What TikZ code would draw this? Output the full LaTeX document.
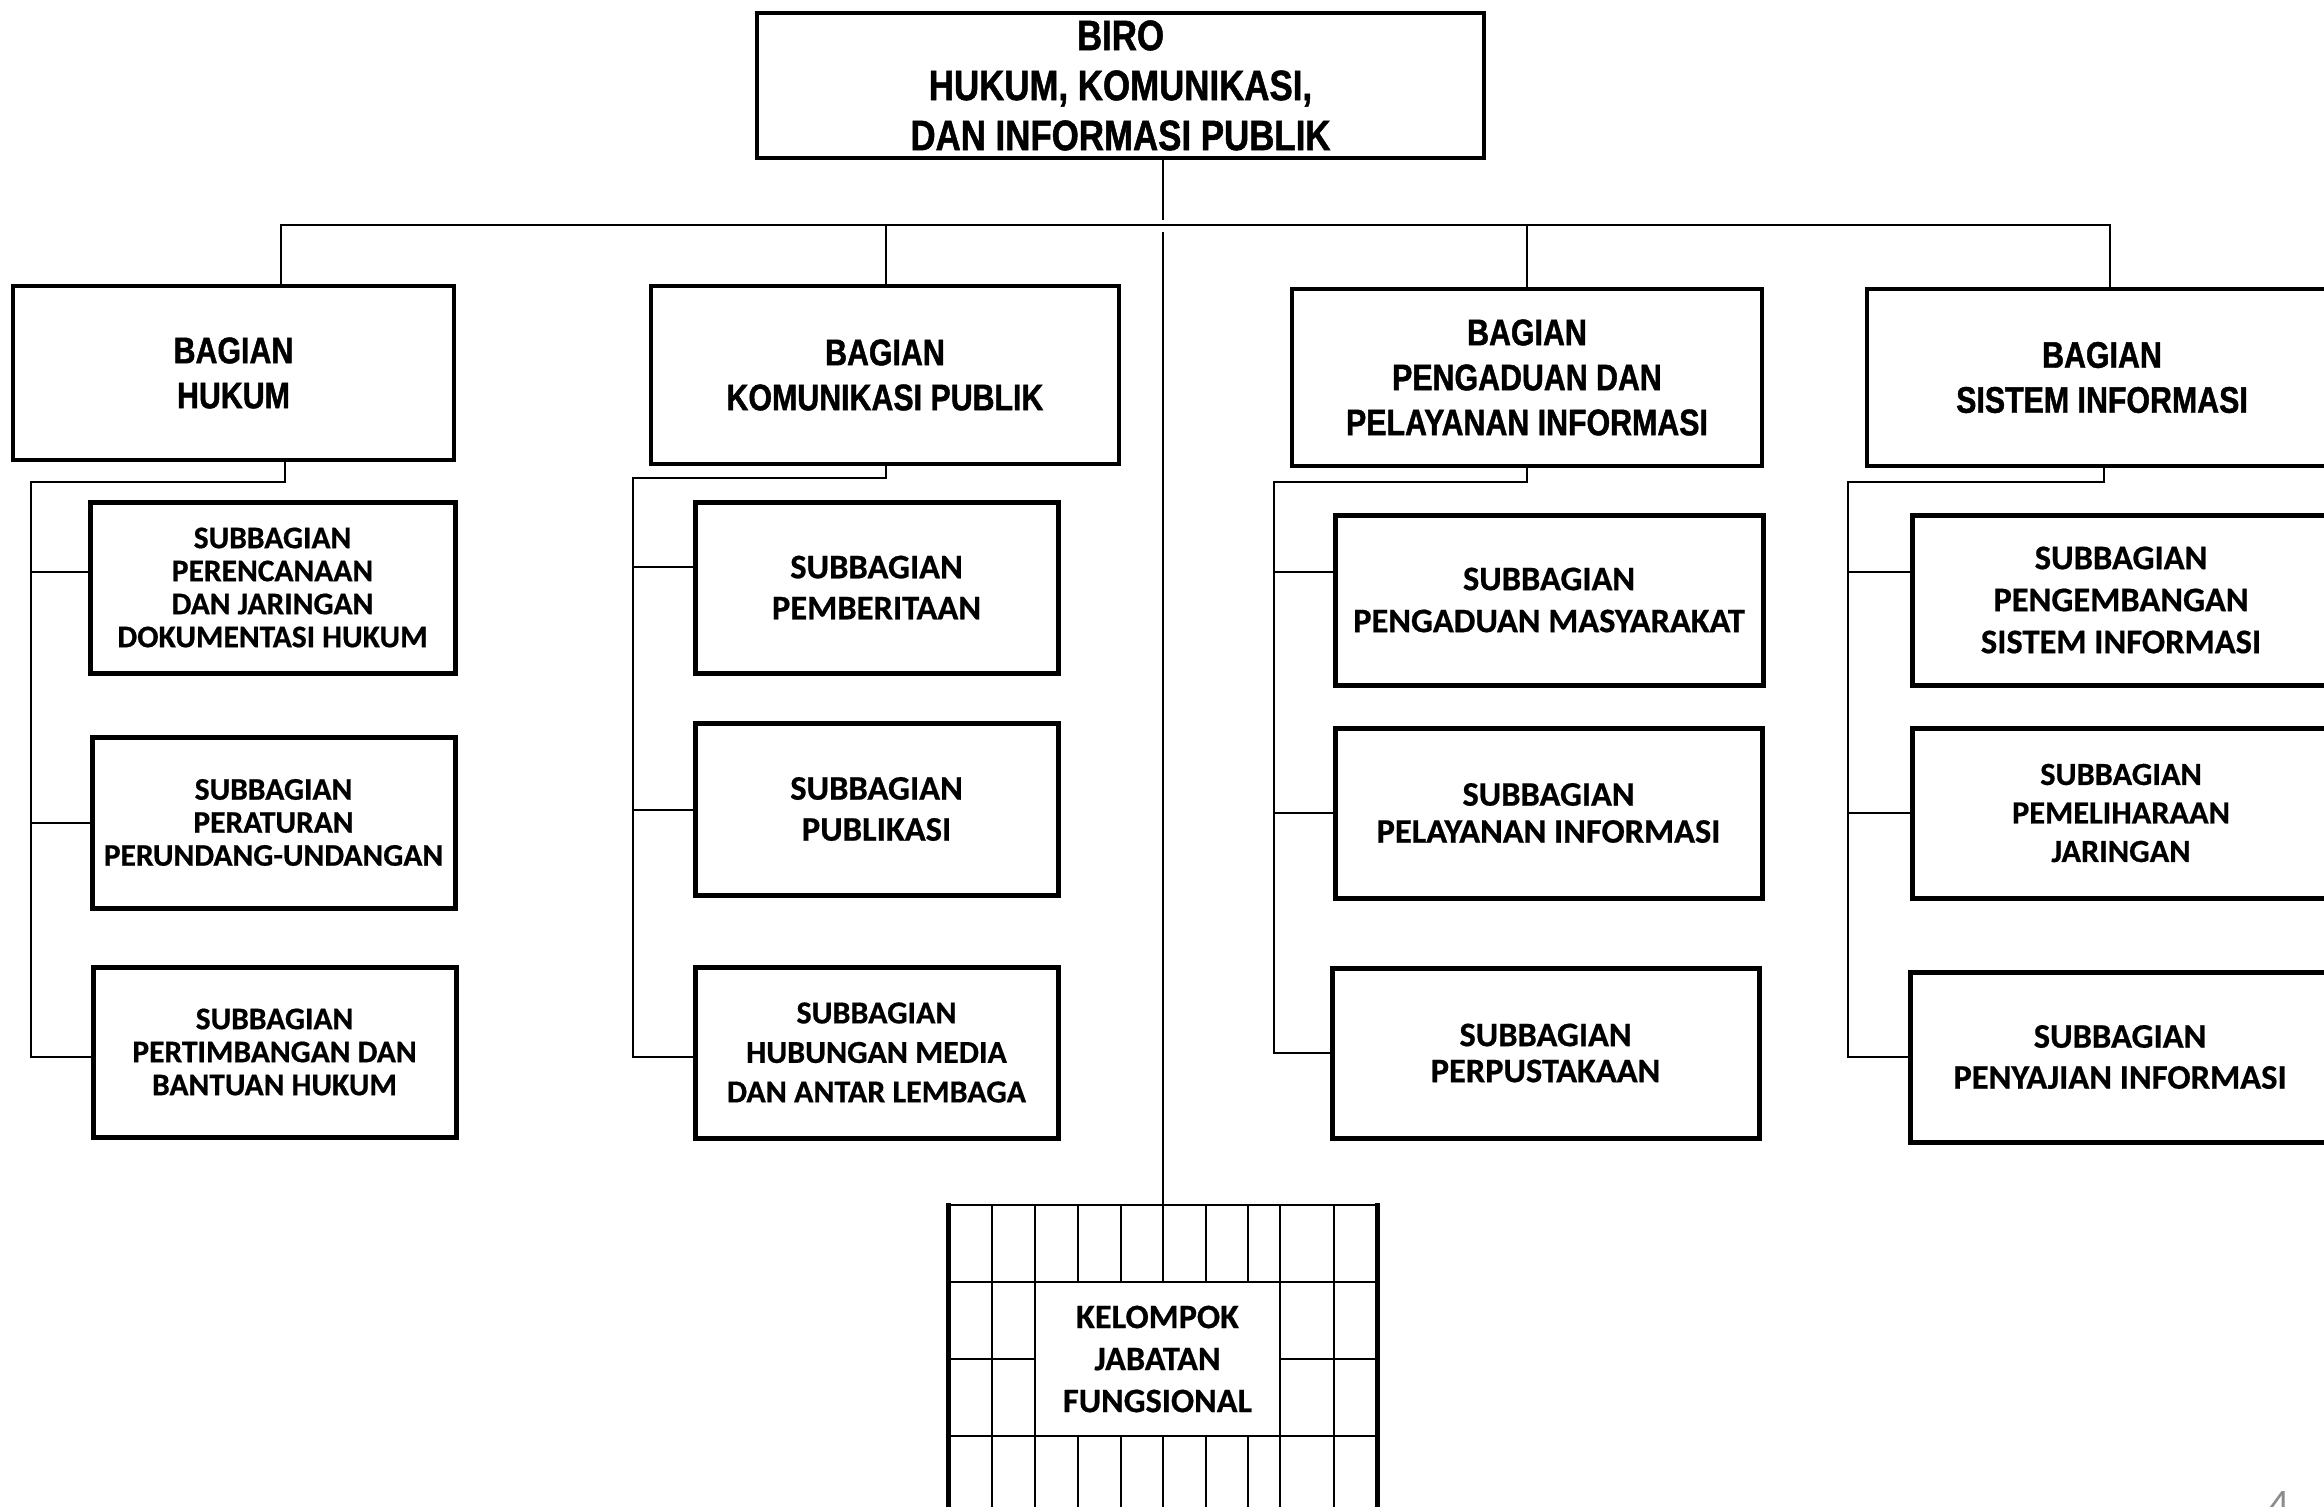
\documentclass[tikz,border=0pt]{standalone}
\usepackage{fontspec}
\newfontfamily\narrowfont[FakeStretch=0.82, BoldFeatures={FakeBold=1.2}]{Liberation Sans}
\newfontfamily\calfont[BoldFeatures={FakeBold=0.6}]{Carlito}
\definecolor{pagegray}{HTML}{8C8C8C}
\begin{document}
\begin{tikzpicture}[x=1pt,y=-1pt,
  conn/.style={line width=2.7pt},
  gridline/.style={line width=2.8pt},
  gridside/.style={line width=5pt},
  bagbox/.style={draw, line width=3.8pt, align=center, inner sep=0pt},
  subbox/.style={draw, line width=5pt, align=center, inner sep=0pt},
  narrowtxt/.style 2 args={font=\narrowfont\bfseries\fontsize{#1}{#2}\selectfont},
  caltxt/.style 2 args={font=\calfont\bfseries\fontsize{#1}{#2}\selectfont}]
\useasboundingbox (0,0) rectangle (2324,1507);
\begin{scope}
\clip (0,0) rectangle (2324,1507);
% ---------- top ----------
\node[bagbox, narrowtxt={42.5}{50}, minimum width=727pt, minimum height=145pt] (biro) at (1120.5,85.5)
  {BIRO\\HUKUM, KOMUNIKASI,\\DAN INFORMASI PUBLIK};
% ---------- bagian ----------
\node[bagbox, narrowtxt={37}{45}, minimum width=441pt, minimum height=174pt] (hukum) at (233.5,373)
  {BAGIAN\\HUKUM};
\node[bagbox, narrowtxt={37}{45}, minimum width=468pt, minimum height=178pt] (kom) at (885,375)
  {BAGIAN\\KOMUNIKASI PUBLIK};
\node[bagbox, narrowtxt={37}{45}, minimum width=470pt, minimum height=177pt] (peng) at (1527,377.5)
  {BAGIAN\\PENGADUAN DAN\\PELAYANAN INFORMASI};
\node[bagbox, narrowtxt={37}{45}, minimum width=470pt, minimum height=177pt] (sis) at (2102,377.5)
  {BAGIAN\\SISTEM INFORMASI};
% ---------- subbagian col 1 ----------
\node[subbox, caltxt={31.5}{33}, minimum width=365pt, minimum height=171pt] (s11) at (272.5,587.5)
  {SUBBAGIAN\\PERENCANAAN\\DAN JARINGAN\\DOKUMENTASI HUKUM};
\node[subbox, caltxt={31.5}{33}, minimum width=363pt, minimum height=171pt] (s12) at (273.5,822.5)
  {SUBBAGIAN\\PERATURAN\\PERUNDANG-UNDANGAN};
\node[subbox, caltxt={31.5}{33}, minimum width=363pt, minimum height=170pt] (s13) at (274.5,1052)
  {SUBBAGIAN\\PERTIMBANGAN DAN\\BANTUAN HUKUM};
% ---------- subbagian col 2 ----------
\node[subbox, caltxt={34.5}{41}, minimum width=363pt, minimum height=171pt] (s21) at (876.5,587.5)
  {SUBBAGIAN\\PEMBERITAAN};
\node[subbox, caltxt={34.5}{41}, minimum width=363pt, minimum height=172pt] (s22) at (876.5,809)
  {SUBBAGIAN\\PUBLIKASI};
\node[subbox, caltxt={32}{39.5}, minimum width=363pt, minimum height=171pt] (s23) at (876.5,1052.5)
  {SUBBAGIAN\\HUBUNGAN MEDIA\\DAN ANTAR LEMBAGA};
% ---------- subbagian col 3 ----------
\node[subbox, caltxt={34.4}{42}, minimum width=428pt, minimum height=170pt] (s31) at (1549,600)
  {SUBBAGIAN\\PENGADUAN MASYARAKAT};
\node[subbox, caltxt={34.4}{37}, minimum width=427pt, minimum height=170pt] (s32) at (1548.5,813)
  {SUBBAGIAN\\PELAYANAN INFORMASI};
\node[subbox, caltxt={34.4}{36}, minimum width=427pt, minimum height=170pt] (s33) at (1545.5,1053)
  {SUBBAGIAN\\PERPUSTAKAAN};
% ---------- subbagian col 4 ----------
\node[subbox, caltxt={34.5}{42}, minimum width=418pt, minimum height=170pt] (s41) at (2121,600)
  {SUBBAGIAN\\PENGEMBANGAN\\SISTEM INFORMASI};
\node[subbox, caltxt={32.3}{38.5}, minimum width=418pt, minimum height=170pt] (s42) at (2121,813)
  {SUBBAGIAN\\PEMELIHARAAN\\JARINGAN};
\node[subbox, caltxt={34.5}{41}, minimum width=420pt, minimum height=170pt] (s43) at (2120,1057)
  {SUBBAGIAN\\PENYAJIAN INFORMASI};
% ---------- kelompok jabatan fungsional ----------
\node[align=center, inner sep=0pt, caltxt={34.3}{42}, minimum width=245pt, minimum height=154pt] (kjf) at (1157.5,1359)
  {KELOMPOK\\JABATAN\\FUNGSIONAL};
% ---------- connectors: top ----------
\coordinate (topend) at (1163,220);
\coordinate (trunktop) at (1163,232);
\coordinate (gridtop) at (1163,1205);
\draw[conn] (biro.south -| topend) -- (topend);
\draw[conn] (trunktop) -- (gridtop);
\coordinate (bus1) at (281,225);
\coordinate (bus2) at (886,225);
\coordinate (bus3) at (1527,225);
\coordinate (bus4) at (2110,225);
\draw[conn] (hukum.north -| bus1) -- (bus1) -- (bus4) -- (sis.north -| bus4);
\draw[conn] (bus2) -- (kom.north -| bus2);
\draw[conn] (bus3) -- (peng.north -| bus3);
% ---------- connectors: col 1 ----------
\coordinate (k1) at (285,482);
\coordinate (t1) at (31,482);
\coordinate (b11) at (31,572);
\coordinate (b12) at (31,823);
\coordinate (b13) at (31,1057);
\draw[conn] (hukum.south -| k1) -- (k1) -- (t1) -- (b13) -- (b13 -| s13.west);
\draw[conn] (b11) -- (b11 -| s11.west);
\draw[conn] (b12) -- (b12 -| s12.west);
% ---------- connectors: col 2 ----------
\coordinate (k2) at (886,478);
\coordinate (t2) at (633,478);
\coordinate (b21) at (633,567);
\coordinate (b22) at (633,810);
\coordinate (b23) at (633,1057);
\draw[conn] (kom.south -| k2) -- (k2) -- (t2) -- (b23) -- (b23 -| s23.west);
\draw[conn] (b21) -- (b21 -| s21.west);
\draw[conn] (b22) -- (b22 -| s22.west);
% ---------- connectors: col 3 ----------
\coordinate (k3) at (1527,482);
\coordinate (t3) at (1274,482);
\coordinate (b31) at (1274,572);
\coordinate (b32) at (1274,813);
\coordinate (b33) at (1274,1053);
\draw[conn] (peng.south -| k3) -- (k3) -- (t3) -- (b33) -- (b33 -| s33.west);
\draw[conn] (b31) -- (b31 -| s31.west);
\draw[conn] (b32) -- (b32 -| s32.west);
% ---------- connectors: col 4 ----------
\coordinate (k4) at (2104,482);
\coordinate (t4) at (1848,482);
\coordinate (b41) at (1848,572);
\coordinate (b42) at (1848,813);
\coordinate (b43) at (1848,1057);
\draw[conn] (sis.south -| k4) -- (k4) -- (t4) -- (b43) -- (b43 -| s43.west);
\draw[conn] (b41) -- (b41 -| s41.west);
\draw[conn] (b42) -- (b42 -| s42.west);
% ---------- grid around KJF ----------
\draw[gridline] (948,1205) -- (1377,1205);
\draw[gridline] (948,1282) -- (1377,1282);
\draw[gridline] (948,1436) -- (1377,1436);
\draw[gridline] (948,1359) -- (kjf.west |- 0,1359);
\draw[gridline] (kjf.east |- 0,1359) -- (1377,1359);
\foreach \gx in {992,1035,1078,1121,1163,1206,1248,1280,1334} {
  \draw[gridline] (\gx,1205) -- (\gx,1282);
  \draw[gridline] (\gx,1436) -- (\gx,1530);
}
\foreach \gx in {992,1035,1280,1334} {
  \draw[gridline] (\gx,1282) -- (\gx,1436);
}
\draw[gridside] (948,1203) -- (948,1530);
\draw[gridside] (1377,1203) -- (1377,1530);
% ---------- page number ----------
\node[anchor=base, inner sep=0pt, text=pagegray, font=\calfont\fontsize{42}{42}\selectfont] (pagenum) at (2279,1518) {4};
\end{scope}
\end{tikzpicture}
\end{document}
